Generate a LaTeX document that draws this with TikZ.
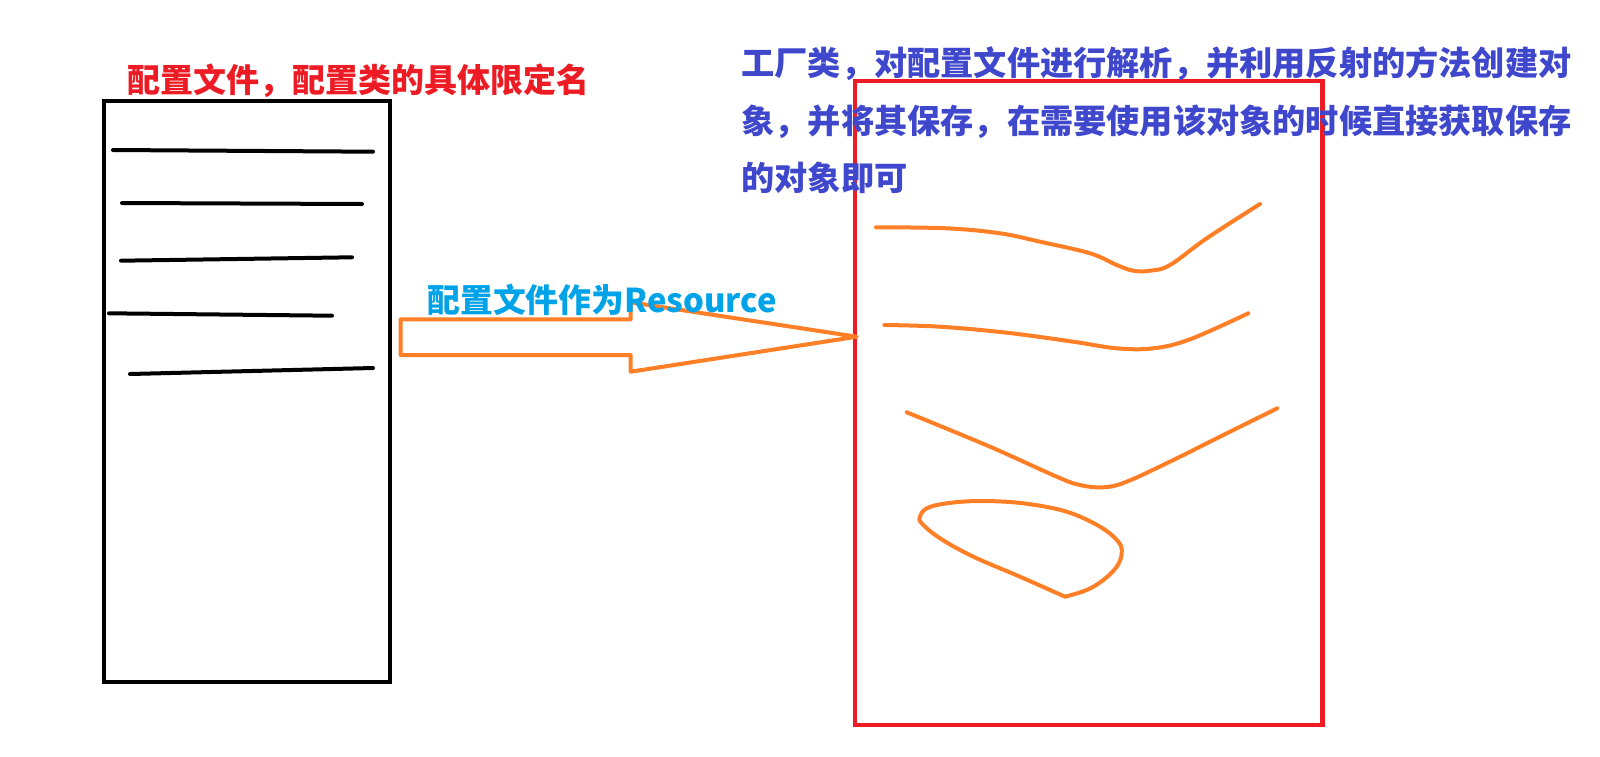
\documentclass[tikz,border=0pt]{standalone}
\usepackage{fontspec}
\newfontfamily\cjk{Noto Sans CJK SC}
\usetikzlibrary{positioning}
\definecolor{myred}{RGB}{237,28,36}
\definecolor{myblue}{RGB}{63,72,204}
\definecolor{mycyan}{RGB}{0,162,232}
\definecolor{myorange}{RGB}{255,127,39}
\tikzset{
	filebox/.style={draw, rectangle, line width=2pt, inner sep=0pt},
	textline/.style={line width=2pt, line cap=round},
	scribble/.style={myorange, line width=2pt, line cap=round, line join=round},
	caption/.style={inner sep=0pt, anchor=west, font=\cjk\bfseries}
}

\begin{document}
\begin{tikzpicture}[x=0.5pt, y=-0.5pt]
	\useasboundingbox (0,0) rectangle (1600,756);
	
	% configuration file
	\node(cfg) at (246.75,391.5) [filebox, minimum width=143.25pt, minimum height=290.5pt] {};
	\draw[textline] (113,150) -- (373,151.7);
	\draw[textline] (122,203) -- (362,204);
	\draw[textline] (121,260.7) -- (352,257.3);
	\draw[textline] (109,313.3) -- (332,315.7);
	\draw[textline] (130,374) -- (373,368);
	
	% factory
	\node(factory) at (1088.8,403) [filebox, myred, line width=2.25pt, minimum width=233.8pt, minimum height=322pt] {};
	
	% resource arrow
	\draw[scribble] (400.7,319.3) -- (630.7,319.3) -- (630.7,302.3) -- (856.7,336.7)
		-- (630.7,371.7) -- (630.7,355) -- (400.7,355) -- cycle;
	
	\draw[scribble] plot[smooth, tension=0.6] coordinates {(876,227.3) (946.7,228.3) (1000,233.3) (1040,241.7) (1090,253.3) (1116.7,265) (1133.3,270.7) (1150,270.7) (1170,265) (1206.7,238.3) (1260,204)};
	\draw[scribble] plot[smooth, tension=0.6] coordinates {(884.3,325) (940,326.7) (1006.7,332.7) (1073.3,341.7) (1116.7,348.3) (1153.3,348.3) (1190,339.3) (1248.3,313.3)};
	\draw[scribble] plot[smooth, tension=0.6] coordinates {(906.7,412.3) (990,446.7) (1056.7,476.7) (1080,485) (1103.3,487.3) (1126.7,481.7) (1173.3,460) (1223.3,435) (1277.3,408.3)};
	\draw[scribble] plot[smooth, tension=0.6] coordinates {(1065,596.7) (1020,576.7) (973.3,556.7) (940,538.3) (921.7,523.3) (920,516.7) (926.7,508.3) (946.7,503.3) (980,501) (1023.3,503.3) (1066.7,511.7) (1100,526.7) (1118.3,541.7) (1121.7,553.3) (1116.7,566.7) (1103.3,580) (1086.7,590) (1065,596.7)};
	
	% labels
	\node(cfglabel) at (127,81) [caption, myred, font=\cjk\bfseries\fontsize{16.5pt}{20pt}\selectfont] {配置文件，配置类的具体限定名};
	\node(reslabel) at (427,300) [caption, mycyan, font=\cjk\bfseries\fontsize{16.4pt}{20pt}\selectfont] {配置文件作为Resource};
	\node(factorylabel) at (741,120.5) [caption, myblue, align=left, font=\cjk\bfseries\fontsize{16.6pt}{28.75pt}\selectfont]
		{工厂类，对配置文件进行解析，并利用反射的方法创建对\\象，并将其保存，在需要使用该对象的时候直接获取保存\\的对象即可};
\end{tikzpicture}
\end{document}
